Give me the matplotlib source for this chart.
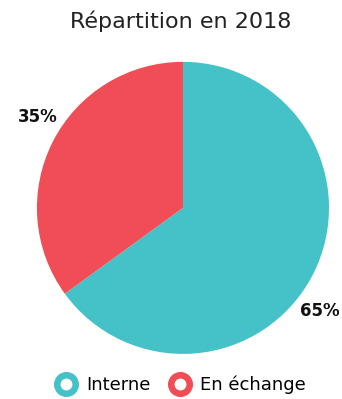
import numpy as np
import matplotlib.pyplot as plt
from matplotlib.lines import Line2D

labels = ["Interne", "En échange"]
values = [65, 35]
colors = ["#45C2C7", "#F04D56"]

plt.rcParams["font.family"] = ["DejaVu Sans"]

fig = plt.figure(figsize=(3.42, 3.99), dpi=100)
fig.text(0.528, 0.947, "Répartition en 2018", ha="center", va="center",
         fontsize=16, color="#222222")

ax = fig.add_axes([0.535 - 0.427, 0.479 - 0.366, 0.854, 0.732])
wedges, texts, autotexts = ax.pie(values, colors=colors, startangle=90,
                                  counterclock=False, autopct="%d%%",
                                  pctdistance=1.17,
                                  wedgeprops=dict(linewidth=0))
ax.set_aspect("equal")
ax.set_xlim(-1, 1)
ax.set_ylim(-1, 1)

# nudge labels to where the reference puts them
for t, ang in zip(autotexts, [-37, 148]):
    a = np.deg2rad(ang)
    t.set_position((1.17 * np.cos(a), 1.17 * np.sin(a)))
    t.set_fontweight("bold")
    t.set_fontsize(12)
    t.set_color("#111111")

handles = [Line2D([], [], marker="o", linestyle="", markersize=13.3,
                  markerfacecolor="white", markeredgecolor=c,
                  markeredgewidth=4.7) for c in colors]
fig.legend(handles, labels, loc="center", bbox_to_anchor=(0.527, 0.035),
           ncol=2, frameon=False, fontsize=13, handletextpad=0.45,
           columnspacing=1.0, handlelength=1.3)

fig.savefig("out.png", dpi=100)
